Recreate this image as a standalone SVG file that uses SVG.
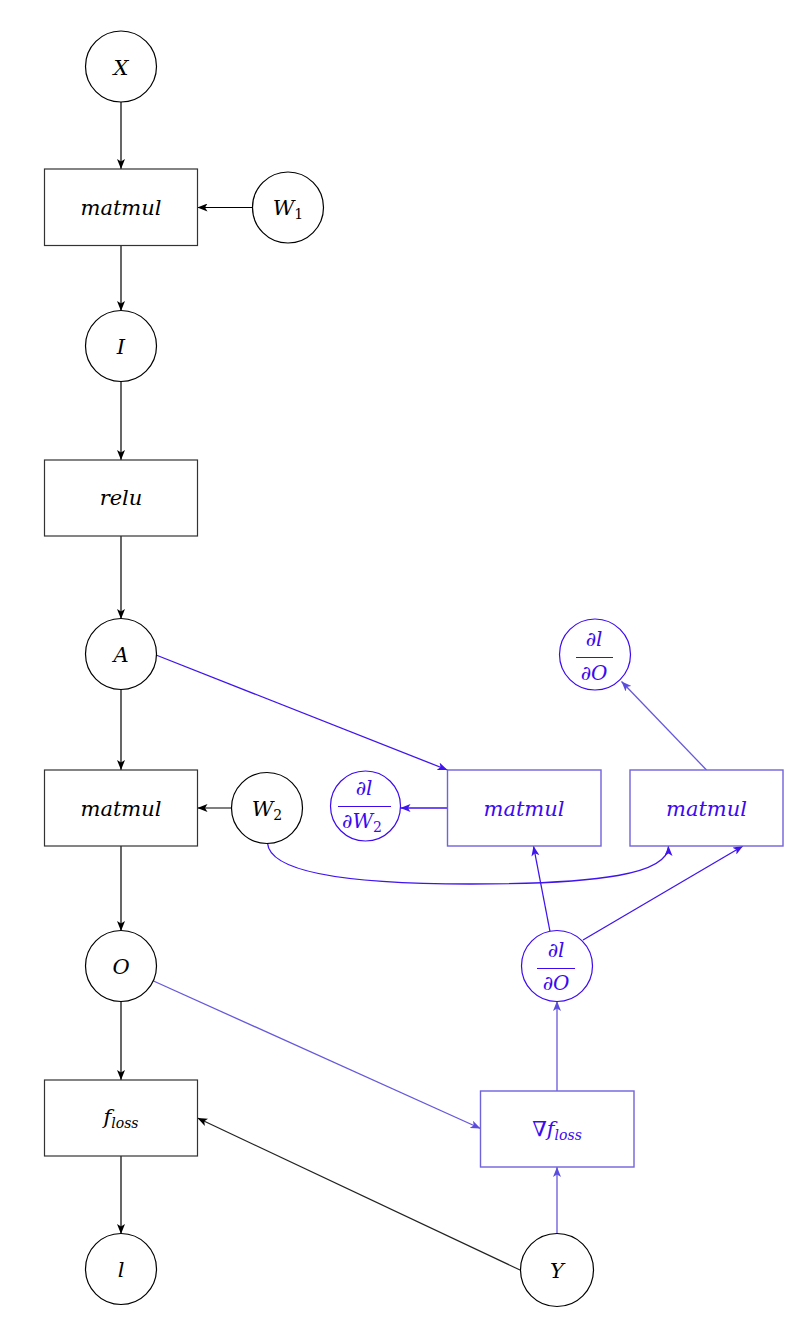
<svg xmlns="http://www.w3.org/2000/svg" width="803" height="1342" viewBox="0 0 803 1342">
  <style>
    .bg { fill: #ffffff; }
    .circ { fill: #ffffff; stroke: #000000; stroke-width: 1.2; }
    .box { fill: #ffffff; stroke: #333333; stroke-width: 1.2; }
    .bcirc { fill: #ffffff; stroke: #3b0af0; stroke-width: 1.2; }
    .bbox { fill: #ffffff; stroke: #6f63dd; stroke-width: 1.4; }
    .t { font-family: "DejaVu Serif", "Liberation Serif", serif; font-style: italic; font-size: 21px; fill: #000000; text-anchor: middle; }
    .bt { fill: #3b0af0; }
    .frac { font-size: 20px; }
    .sub { font-size: 14px; }
    .up { font-style: normal; }
    .bar { stroke: #3b0af0; stroke-width: 1.1; }
    .e { fill: none; stroke: #000000; stroke-width: 1.2; marker-end: url(#arrK); }
    .eg { fill: none; stroke: #222222; stroke-width: 1.2; marker-end: url(#arrK); }
    .eb { fill: none; stroke: #3f14ee; stroke-width: 1.3; marker-end: url(#arrB); }
    .el { fill: none; stroke: #6658dc; stroke-width: 1.3; marker-end: url(#arrL); }
  </style>
  <defs>
    <marker id="arrK" viewBox="0 0 10 8" refX="10" refY="4" markerWidth="10" markerHeight="8" markerUnits="userSpaceOnUse" orient="auto">
      <path d="M0,0 L10,4 L0,8 L2.5,4 z" fill="#000000"/>
    </marker>
    <marker id="arrB" viewBox="0 0 10 8" refX="10" refY="4" markerWidth="10" markerHeight="8" markerUnits="userSpaceOnUse" orient="auto">
      <path d="M0,0 L10,4 L0,8 L2.5,4 z" fill="#3f14ee"/>
    </marker>
    <marker id="arrL" viewBox="0 0 10 8" refX="10" refY="4" markerWidth="10" markerHeight="8" markerUnits="userSpaceOnUse" orient="auto">
      <path d="M0,0 L10,4 L0,8 L2.5,4 z" fill="#5a4cdc"/>
    </marker>
  </defs>

  <rect class="bg" x="0" y="0" width="803" height="1342"/>

  <!-- connectors -->
  <g id="edges">
    <path class="e" d="M121,102 L121,169"/>
    <path class="e" d="M253,207.5 L197.5,207.5"/>
    <path class="e" d="M121,245.5 L121,311"/>
    <path class="e" d="M121,381 L121,460"/>
    <path class="e" d="M121,536 L121,619"/>
    <path class="e" d="M121,689 L121,770"/>
    <path class="e" d="M232,808 L197.5,808"/>
    <path class="e" d="M121,846 L121,931"/>
    <path class="e" d="M121,1001 L121,1080"/>
    <path class="e" d="M121,1156 L121,1234"/>
    <path class="eg" d="M520,1270 L197.5,1118"/>

    <path class="eb" d="M156,655 L447.5,770"/>
    <path class="eb" d="M447.5,808 L400.5,808"/>
    <path class="eb" d="M550,931.5 L533.5,846"/>
    <path class="eb" d="M583,940 L743,846"/>
    <path class="el" d="M706.5,770 L621.5,681.5"/>
    <path class="el" d="M557,1091 L557,1001"/>
    <path class="el" d="M557,1234 L557,1167"/>
    <path class="el" d="M153.5,981 L480.5,1128.5"/>
    <path class="eb" d="M267.5,843 C270,878 380,884 470,884 C600,884 668.5,874 668.5,846"/>
  </g>

  <!-- forward graph -->
  <g id="X">
    <circle class="circ" cx="121" cy="66.5" r="35.5"/>
    <text class="t" x="121" y="74.5">X</text>
  </g>
  <g id="matmul1">
    <rect class="box" x="44.5" y="169" width="153" height="76.5"/>
    <text class="t" x="121" y="215">matmul</text>
  </g>
  <g id="W1">
    <circle class="circ" cx="288" cy="207.5" r="35.5"/>
    <text class="t" x="288" y="215">W<tspan class="sub up" dy="4">1</tspan></text>
  </g>
  <g id="I">
    <circle class="circ" cx="121" cy="346" r="35.5"/>
    <text class="t" x="121" y="353.5">I</text>
  </g>
  <g id="relu">
    <rect class="box" x="44.5" y="460" width="153" height="76"/>
    <text class="t" x="121" y="505">relu</text>
  </g>
  <g id="A">
    <circle class="circ" cx="121" cy="654" r="35.5"/>
    <text class="t" x="121" y="661.5">A</text>
  </g>
  <g id="matmul2">
    <rect class="box" x="44.5" y="770" width="153" height="76"/>
    <text class="t" x="121" y="815.5">matmul</text>
  </g>
  <g id="W2">
    <circle class="circ" cx="267" cy="808" r="35.5"/>
    <text class="t" x="267" y="815.5">W<tspan class="sub up" dy="4">2</tspan></text>
  </g>
  <g id="O">
    <circle class="circ" cx="121" cy="966" r="35.5"/>
    <text class="t" x="121" y="973.5">O</text>
  </g>
  <g id="floss">
    <rect class="box" x="44.5" y="1080" width="153" height="76"/>
    <text class="t" x="121" y="1124">f<tspan class="sub" dy="4">loss</tspan></text>
  </g>
  <g id="l">
    <circle class="circ" cx="121" cy="1269" r="35.5"/>
    <text class="t" x="121" y="1276.5">l</text>
  </g>
  <g id="Y">
    <circle class="circ" cx="557" cy="1270" r="36.5"/>
    <text class="t" x="557" y="1277.5">Y</text>
  </g>

  <!-- backward graph -->
  <g id="grad_floss">
    <rect class="bbox" x="480.5" y="1091" width="153.5" height="76"/>
    <text class="t bt" x="557" y="1136"><tspan class="up">∇</tspan>f<tspan class="sub" dy="4">loss</tspan></text>
  </g>
  <g id="dl_dO_low">
    <circle class="bcirc" cx="557" cy="966" r="35.5"/>
    <text class="t bt frac" x="556" y="957">∂l</text>
    <line class="bar" x1="537" y1="968.5" x2="575" y2="968.5"/>
    <text class="t bt frac" x="556" y="990">∂O</text>
  </g>
  <g id="bmatmul1">
    <rect class="bbox" x="447.5" y="770" width="153.5" height="76"/>
    <text class="t bt" x="524" y="815.5">matmul</text>
  </g>
  <g id="bmatmul2">
    <rect class="bbox" x="630" y="770" width="153" height="76"/>
    <text class="t bt" x="706.5" y="815.5">matmul</text>
  </g>
  <g id="dl_dW2">
    <circle class="bcirc" cx="365.5" cy="806" r="35"/>
    <text class="t bt frac" x="364" y="795">∂l</text>
    <line class="bar" x1="338" y1="806.5" x2="391" y2="806.5"/>
    <text class="t bt frac" x="362" y="828">∂W<tspan class="sub up" dy="4">2</tspan></text>
  </g>
  <g id="dl_dO_top">
    <circle class="bcirc" cx="595" cy="654.5" r="35.5"/>
    <text class="t bt frac" x="594" y="646">∂l</text>
    <line class="bar" x1="576" y1="657.5" x2="613" y2="657.5"/>
    <text class="t bt frac" x="594" y="680">∂O</text>
  </g>
</svg>
